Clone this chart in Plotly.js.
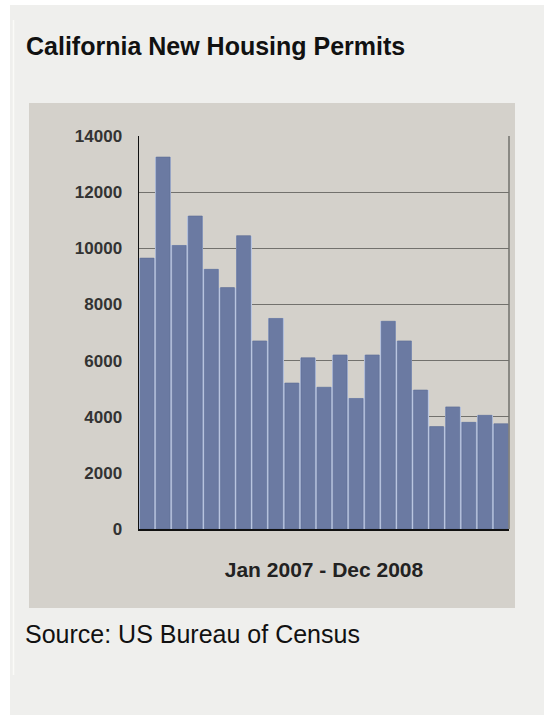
<!DOCTYPE html>
<html>
<head>
<meta charset="utf-8">
<script src="https://cdn.plot.ly/plotly-3.0.1.min.js"></script>
<style>
  html, body { margin: 0; padding: 0; background: #ffffff; }
  #chart { width: 544px; height: 715px; }
</style>
</head>
<body>
<div id="chart"></div>
<script>
// ---- Data ----
const months = [
  "Jan 2007","Feb 2007","Mar 2007","Apr 2007","May 2007","Jun 2007",
  "Jul 2007","Aug 2007","Sep 2007","Oct 2007","Nov 2007","Dec 2007",
  "Jan 2008","Feb 2008","Mar 2008","Apr 2008","May 2008","Jun 2008",
  "Jul 2008","Aug 2008","Sep 2008","Oct 2008","Nov 2008"
];
const permits = [
  9650, 13250, 10100, 11150, 9250, 8600,
  10450, 6700, 7500, 5200, 6100, 5050,
  6200, 4650, 6200, 7400, 6700, 4950,
  3650, 4350, 3800, 4050, 3750
];
const yTicks = [0, 2000, 4000, 6000, 8000, 10000, 12000, 14000];
const chartTitle = "California New Housing Permits";
const xTitle = "Jan 2007 - Dec 2008";
const sourceNote = "Source: US Bureau of Census";

// ---- Layout geometry (pixels) ----
const W = 544, H = 715;
const M = { l: 139, r: 35, t: 136, b: 186 };
const PW = W - M.l - M.r, PH = H - M.t - M.b;
const px2x = px => (px - M.l) / PW;
const py2y = py => (H - M.b - py) / PH;

const FONT = "Liberation Sans, Arial, Helvetica, sans-serif";

// light edge seen between adjacent bars (sides only)
const edgeTrace = {
  type: "bar",
  x: months,
  y: permits,
  width: 1,
  marker: { color: "#b9c5e0", line: { width: 0 } },
  hoverinfo: "skip"
};
// the bars themselves
const barTrace = {
  type: "bar",
  x: months,
  y: permits,
  width: 0.86,
  marker: { color: "#6b7aa2", line: { color: "#5d6c94", width: 0.6 } },
  hoverinfo: "x+y"
};

const layout = {
  width: W,
  height: H,
  margin: M,
  paper_bgcolor: "#ffffff",
  plot_bgcolor: "#d4d1cb",
  showlegend: false,
  barmode: "overlay",
  bargap: 0,
  title: {
    text: "<b>" + chartTitle + "</b>",
    xref: "container", yref: "container",
    x: 26 / W, xanchor: "left",
    y: 1 - 46 / H, yanchor: "middle",
    font: { family: FONT, size: 25, color: "#111111" }
  },
  xaxis: {
    type: "category",
    showticklabels: false,
    ticks: "",
    showgrid: false,
    zeroline: false,
    showline: true,
    linecolor: "#111111",
    linewidth: 2,
    fixedrange: true,
    title: {
      text: "<b>" + xTitle + "</b>",
      standoff: 32,
      font: { family: FONT, size: 21, color: "#222222" }
    }
  },
  yaxis: {
    range: [0, 14000],
    tickmode: "array",
    tickvals: yTicks,
    ticktext: yTicks.map(String),
    ticks: "",
    ticklabelstandoff: 12,
    tickfont: { family: FONT, size: 17, color: "#333333", weight: "bold" },
    showgrid: true,
    gridcolor: "#72716d",
    gridwidth: 1,
    zeroline: false,
    showline: true,
    linecolor: "#111111",
    linewidth: 1.5,
    fixedrange: true
  },
  shapes: [
    // light panel
    { type: "rect", xref: "paper", yref: "paper", layer: "below",
      x0: px2x(10), x1: px2x(W + 5), y0: py2y(H + 5), y1: py2y(5),
      fillcolor: "#efefed", line: { width: 0 } },
    // thin light rule at the panel's left edge
    { type: "line", xref: "paper", yref: "paper", layer: "below",
      x0: px2x(13.5), x1: px2x(13.5), y0: py2y(675), y1: py2y(20),
      line: { color: "#fafaf8", width: 1.5 } },
    // chart image background
    { type: "rect", xref: "paper", yref: "paper", layer: "below",
      x0: px2x(29), x1: px2x(515), y0: py2y(608), y1: py2y(103),
      fillcolor: "#d4d1cb", line: { width: 0 } },
    // right border of plot area
    { type: "line", xref: "paper", yref: "paper", layer: "above",
      x0: 1, x1: 1, y0: 0, y1: 1,
      line: { color: "#72716d", width: 1.5 } }
  ],
  annotations: [
    { text: sourceNote, xref: "paper", yref: "paper",
      x: px2x(23), xanchor: "left",
      y: py2y(634), yanchor: "middle",
      showarrow: false,
      font: { family: FONT, size: 25, color: "#111111" } }
  ]
};

Plotly.newPlot("chart", [edgeTrace, barTrace], layout, { displayModeBar: false, staticPlot: true });
</script>
</body>
</html>
